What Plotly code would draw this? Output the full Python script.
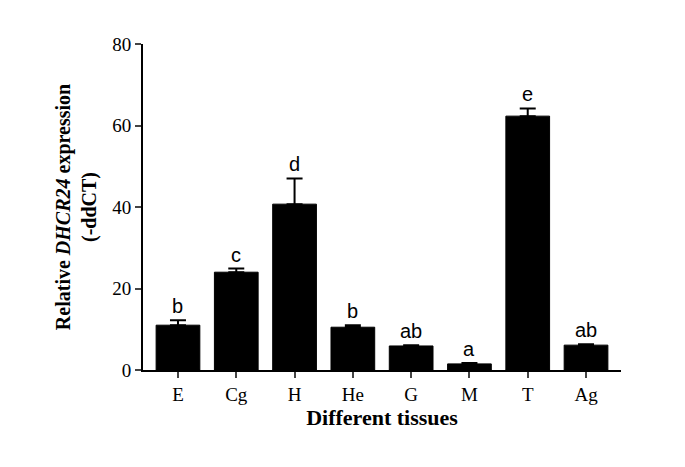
import plotly.graph_objects as go

tissues = ["E", "Cg", "H", "He", "G", "M", "T", "Ag"]
values = [11.0, 24.0, 40.7, 10.5, 5.9, 1.5, 62.3, 6.1]
errors = [1.2, 0.9, 6.3, 0.5, 0.2, 0.2, 1.9, 0.2]
letters = ["b", "c", "d", "b", "ab", "a", "e", "ab"]

fig = go.Figure(go.Bar(
    x=tissues, y=values, width=0.75,
    marker=dict(color="black", line=dict(color="black", width=1)),
    error_y=dict(type="data", array=errors, symmetric=False, arrayminus=[0]*8,
                 color="black", thickness=2, width=8),
))
for t, v, e, l in zip(tissues, values, errors, letters):
    fig.add_annotation(x=t, y=v + e, text=l, showarrow=False, yanchor="bottom", yshift=1,
                       font=dict(family="Liberation Sans", size=20, color="black"))

fig.update_layout(
    width=685, height=467, plot_bgcolor="white", paper_bgcolor="white",
    margin=dict(l=135, r=72, t=36, b=105), showlegend=False,
    font=dict(family="Liberation Serif", color="black", size=19),
    xaxis=dict(showline=True, linecolor="black", linewidth=2, ticks="outside",
               ticklen=6, tickwidth=2, range=[-0.6, 7.6],
               title=dict(text="<b>Different tissues</b>", font=dict(size=22), standoff=6)),
    yaxis=dict(range=[0, 80], tickvals=[0, 20, 40, 60, 80], showline=True, linecolor="black",
               linewidth=2, ticks="outside", ticklen=6, tickwidth=2, showgrid=False, zeroline=False,
               title=dict(text="<b>Relative <i>DHCR24</i> expression<br>(-ddCT)</b>",
                          font=dict(size=20), standoff=10)),
)
fig.write_html("out.html")
